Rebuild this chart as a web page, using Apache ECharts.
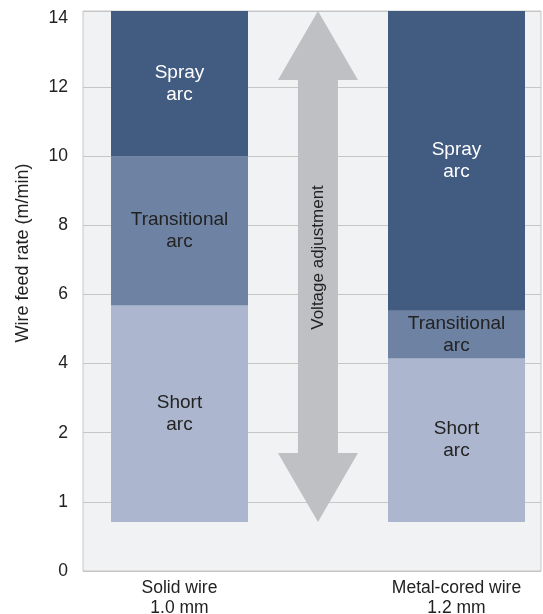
<!DOCTYPE html>
<html>
<head>
<meta charset="utf-8">
<script src="https://cdn.jsdelivr.net/npm/echarts@6/dist/echarts.min.js"></script>
<style>
  html, body { margin: 0; padding: 0; background: #fff; }
  #main { width: 543px; height: 614px; }
</style>
</head>
<body>
<div id="main"></div>
<script>
// wire types on the x axis
var categories = ['Solid wire\n1.0 mm', 'Metal-cored wire\n1.2 mm'];
// arc modes, bottom to top
var segmentNames = ['Short\narc', 'Transitional\narc', 'Spray\narc'];
// boundaries of each band in m/min (bottom, short/trans, trans/spray, top)
var solidBounds = [0.71, 5.68, 10, 14.2];
var metalBounds = [0.71, 4.15, 5.53, 14.2];
// voltage arrow range in m/min
var arrowRange = [0.71, 14.2];
// y tick labels (axis is not linear: 0,1,2 then steps of 2)
var yTickLabels = ['0', '1', '2', '4', '6', '8', '10', '12', '14'];

var segColors = ['#acb7cf', '#6e83a4', '#425b80'];
var segTextColors = ['#222', '#222', '#fff'];
var catX = [0.2107, 0.8155];
var arrowX = 0.513;
var FONT = 'Liberation Sans, Arial, Helvetica, sans-serif';

// m/min -> axis position (one step per tick label)
function toPos(v) {
  if (v <= 2) return v;
  return 2 + (v - 2) / 2;
}

var segData = [];
[solidBounds, metalBounds].forEach(function (b, i) {
  for (var j = 0; j < 3; j++) {
    segData.push([catX[i], toPos(b[j]), toPos(b[j + 1]), j]);
  }
});

var chart = echarts.init(document.getElementById('main'));

var option = {
  animation: false,
  grid: {
    left: 83, right: 2, top: 11, bottom: 43,
    outerBoundsMode: 'none',
    containLabel: false,
    show: true,
    backgroundColor: '#f1f2f4',
    borderColor: '#c6c6c6',
    borderWidth: 1
  },
  xAxis: {
    type: 'value',
    min: 0, max: 1,
    axisLine: { show: false },
    axisTick: { show: false },
    splitLine: { show: false },
    axisLabel: {
      customValues: catX,
      formatter: function (v) {
        var k = v < 0.5 ? 0 : 1;
        return categories[k];
      },
      color: '#222',
      fontFamily: FONT,
      fontSize: 17.5,
      lineHeight: 20,
      margin: 7
    }
  },
  yAxis: {
    type: 'value',
    min: 0, max: 8.1,
    interval: 1,
    axisLine: { show: false },
    axisTick: { show: false },
    splitLine: {
      show: true,
      lineStyle: {
        color: ['#c6c6c6', '#c6c6c6', '#c6c6c6', '#c6c6c6', '#c6c6c6', '#c6c6c6', '#c6c6c6', '#c6c6c6', 'rgba(0,0,0,0)', '#c6c6c6'],
        width: 1
      }
    },
    axisLabel: {
      formatter: function (v) {
        return Number.isInteger(v) ? yTickLabels[v] : '';
      },
      color: '#222',
      fontFamily: FONT,
      fontSize: 17.5,
      margin: 15
    }
  },
  graphic: [{
    type: 'text',
    x: 23, y: 253,
    rotation: Math.PI / 2,
    style: {
      text: 'Wire feed rate (m/min)',
      fill: '#222',
      font: '18px ' + FONT,
      textAlign: 'center',
      textVerticalAlign: 'middle'
    }
  }],
  series: [
    {
      type: 'custom',
      z: 3,
      data: segData,
      encode: { x: 0, y: [1, 2] },
      renderItem: function (params, api) {
        var x = api.value(0);
        var lo = api.coord([x, api.value(1)]);
        var hi = api.coord([x, api.value(2)]);
        var j = api.value(3);
        var w = 137;
        return {
          type: 'group',
          children: [{
            type: 'rect',
            shape: { x: lo[0] - w / 2, y: hi[1], width: w, height: lo[1] - hi[1] },
            style: { fill: segColors[j] }
          }, {
            type: 'text',
            x: lo[0], y: (lo[1] + hi[1]) / 2,
            style: {
              text: segmentNames[j],
              fill: segTextColors[j],
              font: '19px ' + FONT,
              lineHeight: 22,
              align: 'center',
              verticalAlign: 'middle'
            }
          }]
        };
      }
    },
    {
      type: 'custom',
      z: 3,
      data: [[arrowX, toPos(arrowRange[0]), toPos(arrowRange[1])]],
      encode: { x: 0, y: [1, 2] },
      renderItem: function (params, api) {
        var x = api.value(0);
        var b = api.coord([x, api.value(1)]);
        var t = api.coord([x, api.value(2)]);
        var cx = b[0], yb = b[1], yt = t[1];
        var hw = 40, sw = 20, hl = 69;
        return {
          type: 'group',
          children: [{
            type: 'polygon',
            shape: {
              points: [
                [cx, yt], [cx + hw, yt + hl], [cx + sw, yt + hl], [cx + sw, yb - hl],
                [cx + hw, yb - hl], [cx, yb], [cx - hw, yb - hl], [cx - sw, yb - hl],
                [cx - sw, yt + hl], [cx - hw, yt + hl]
              ]
            },
            style: { fill: '#bfc0c3' }
          }, {
            type: 'text',
            x: cx, y: (yb + yt) / 2 - 9,
            rotation: Math.PI / 2,
            style: {
              text: 'Voltage adjustment',
              fill: '#222',
              font: '17px ' + FONT,
              align: 'center',
              verticalAlign: 'middle'
            }
          }]
        };
      }
    }
  ]
};

chart.setOption(option);
</script>
</body>
</html>
